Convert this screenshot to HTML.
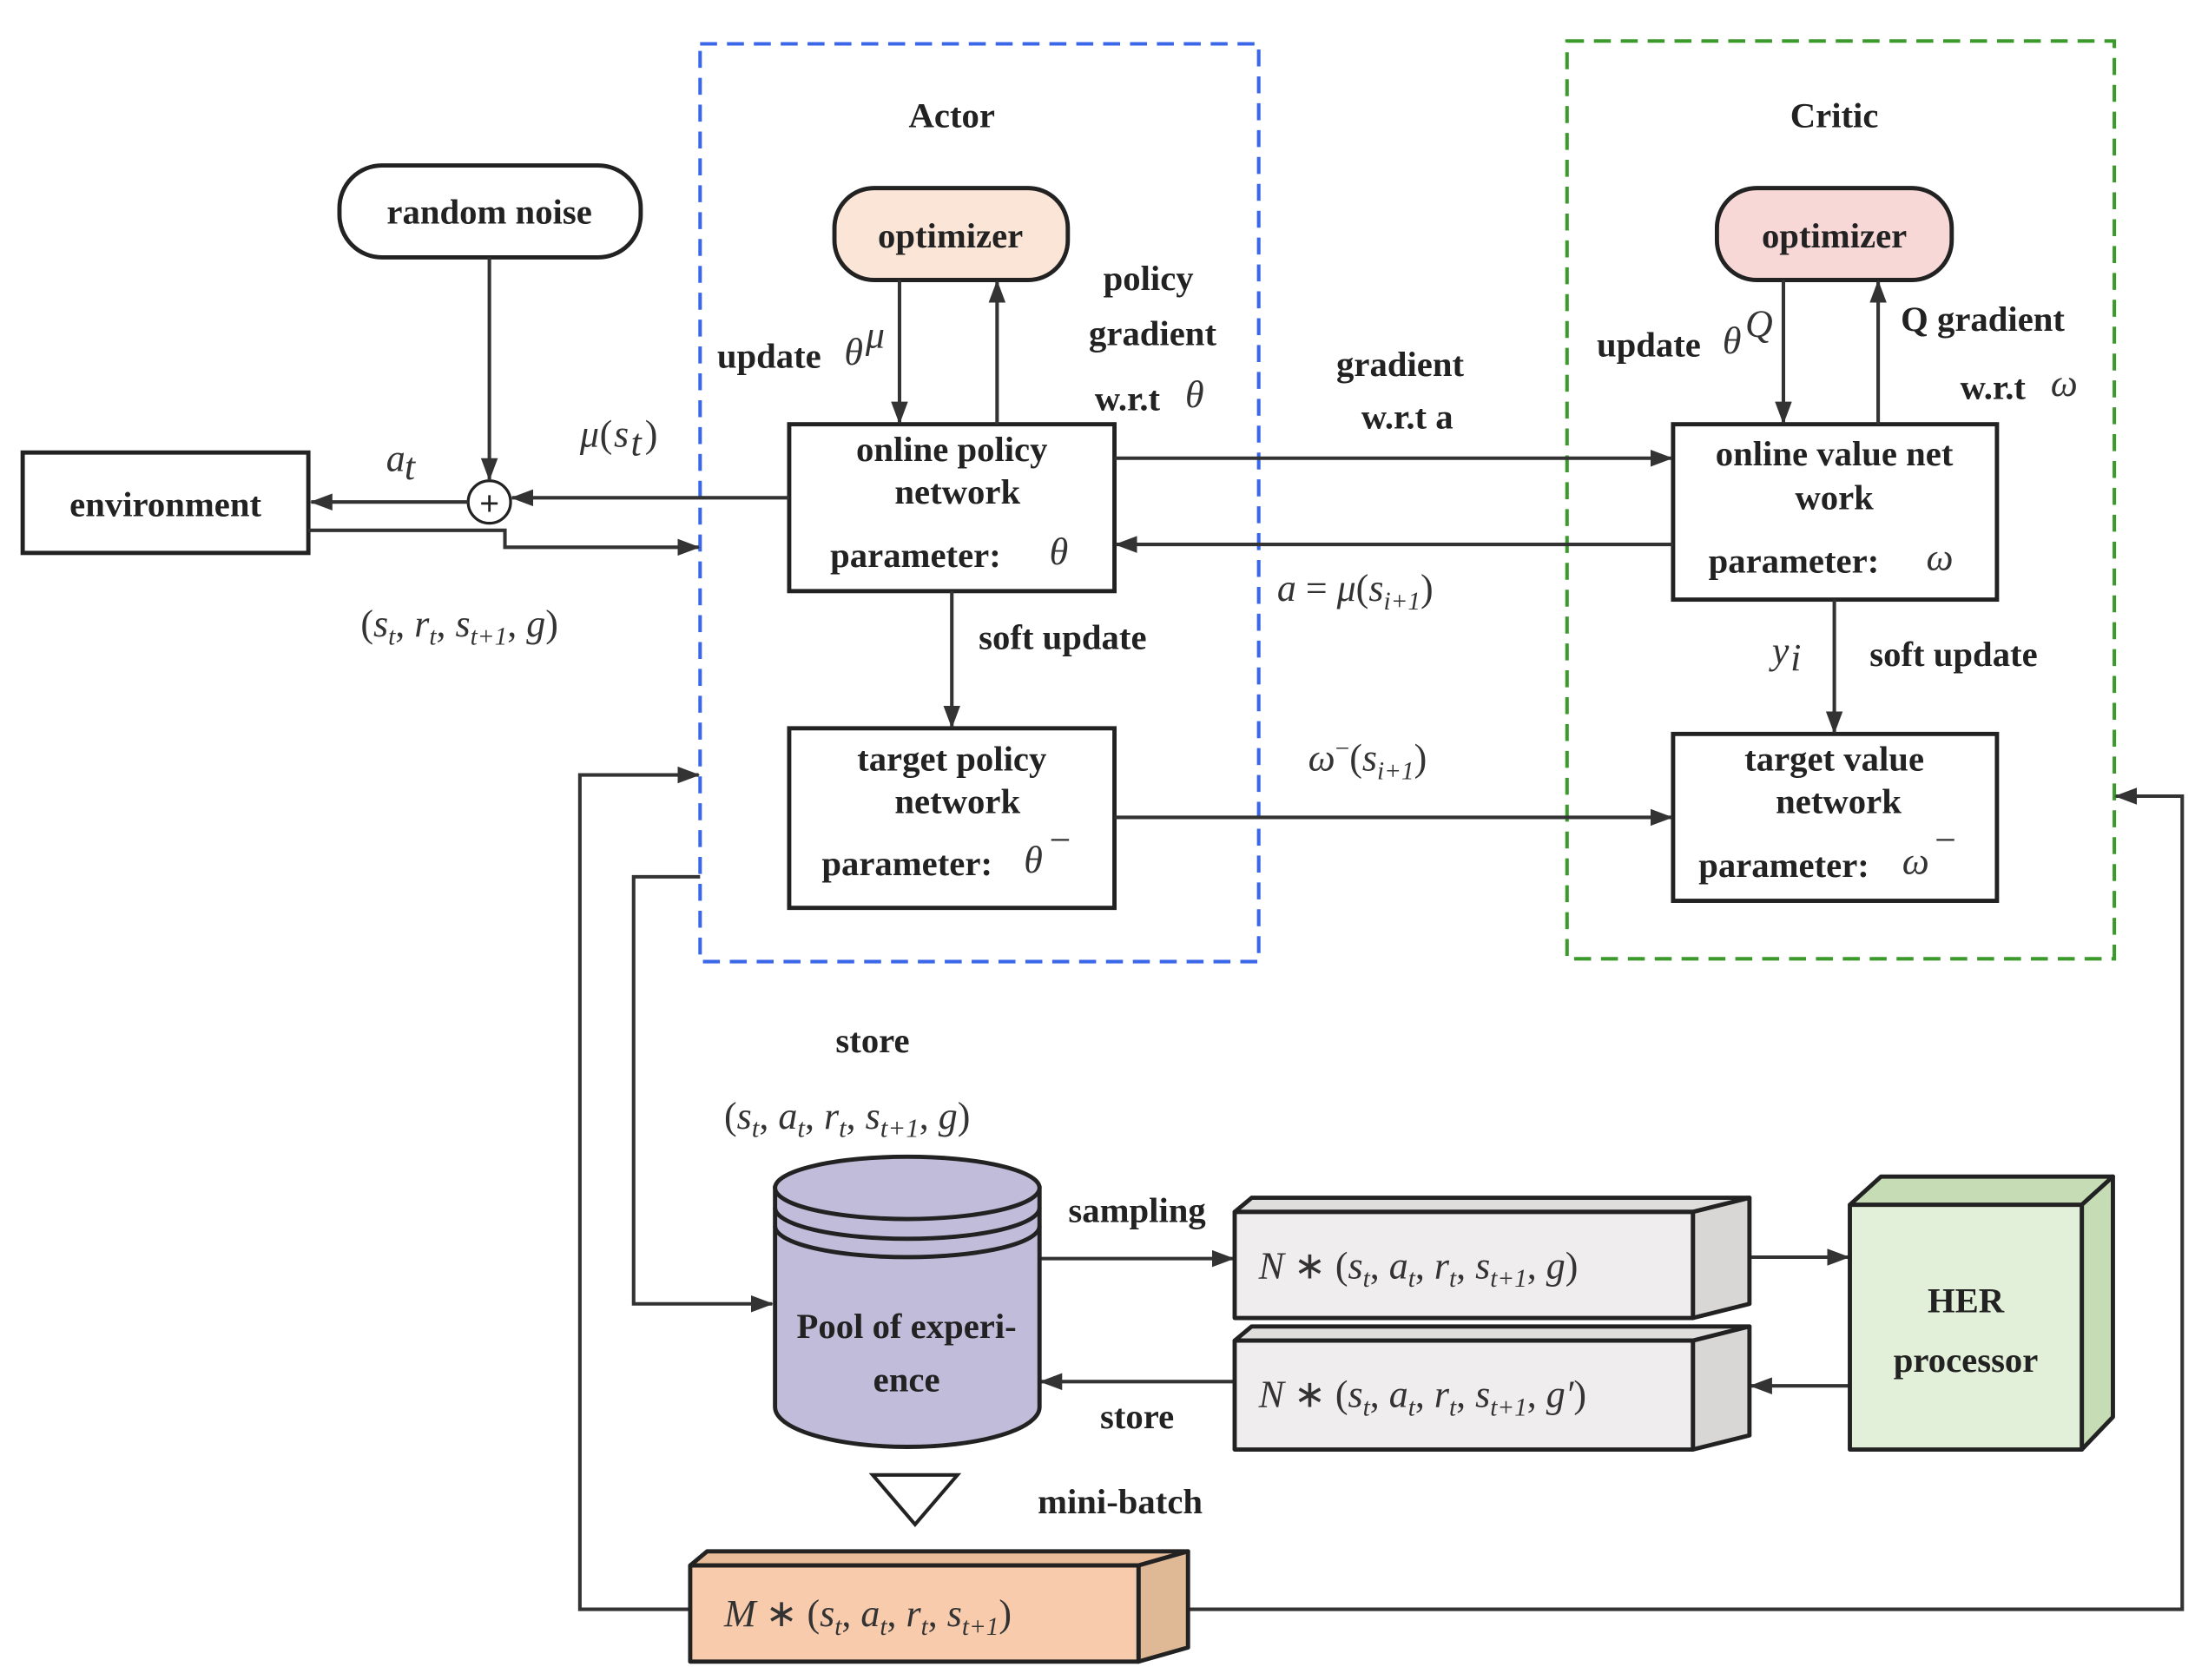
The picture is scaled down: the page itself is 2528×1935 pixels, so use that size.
<!DOCTYPE html>
<html><head><meta charset="utf-8"><style>
html,body{margin:0;padding:0;background:#fff}
svg{display:block}
.b{font-family:"Liberation Serif",serif;font-weight:bold;fill:#222;font-size:25px}
.m{font-family:"Liberation Serif",serif;font-style:italic;fill:#333;font-size:27px}
.n{font-family:"Liberation Serif",serif;fill:#333;font-size:27px}
</style></head><body>
<svg width="2528" height="1935" viewBox="0 0 1552 1188" xmlns="http://www.w3.org/2000/svg">
<defs>
<marker id="a" markerWidth="16" markerHeight="12" refX="15" refY="6" orient="auto" markerUnits="userSpaceOnUse" viewBox="0 0 16 12">
<path d="M0,0 L16,6 L0,12 z" fill="#333"/></marker>
</defs>
<g fill="none" stroke-width="2.5" stroke-dasharray="12,7">
<rect x="495" y="31" width="395" height="649" stroke="#3a66e8"/>
<rect x="1108" y="29" width="387" height="649" stroke="#3c9a2c"/>
</g>
<text class="b" x="673" y="90" text-anchor="middle" font-size="27">Actor</text>
<text class="b" x="1297" y="90" text-anchor="middle" font-size="27">Critic</text>

<g stroke="#222" stroke-width="3">
<rect x="240" y="117" width="213" height="65" rx="30" fill="#fff"/>
<rect x="590" y="133" width="165" height="65" rx="28" fill="#fbe5d6"/>
<rect x="1214" y="133" width="166" height="65" rx="28" fill="#f8d7d7"/>
<rect x="558" y="300" width="230" height="118" fill="#fff"/>
<rect x="558" y="515" width="230" height="127" fill="#fff"/>
<rect x="1183" y="300" width="229" height="124" fill="#fff"/>
<rect x="1183" y="519" width="229" height="118" fill="#fff"/>
<rect x="16" y="320" width="202" height="71" fill="#fff"/>
</g>
<circle cx="346" cy="355" r="15" fill="#fff" stroke="#222" stroke-width="2"/>
<text x="346" y="364" text-anchor="middle" font-family="Liberation Sans" font-size="24" fill="#222">+</text>

<text class="b" x="346" y="158" text-anchor="middle" font-size="27">random noise</text>
<text class="b" x="672" y="175" text-anchor="middle" font-size="27">optimizer</text>
<text class="b" x="1297" y="175" text-anchor="middle" font-size="27">optimizer</text>
<text class="b" x="117" y="365" text-anchor="middle" font-size="26">environment</text>
<text class="b" x="673" y="326" text-anchor="middle">online policy</text>
<text class="b" x="677" y="356" text-anchor="middle">network</text>
<text class="b" x="587" y="401">parameter:</text><text class="m" x="742" y="399">θ</text>
<text class="b" x="673" y="545" text-anchor="middle">target policy</text>
<text class="b" x="677" y="575" text-anchor="middle">network</text>
<text class="b" x="581" y="619">parameter:</text><text class="m" x="724" y="617">θ</text><text class="n" x="742" y="603" font-size="18">−</text>
<text class="b" x="1297" y="329" text-anchor="middle">online value net</text>
<text class="b" x="1297" y="360" text-anchor="middle">work</text>
<text class="b" x="1208" y="405">parameter:</text><text class="m" x="1362" y="403">ω</text>
<text class="b" x="1297" y="545" text-anchor="middle">target value</text>
<text class="b" x="1300" y="575" text-anchor="middle">network</text>
<text class="b" x="1201" y="620">parameter:</text><text class="m" x="1345" y="618">ω</text><text class="n" x="1368" y="603" font-size="18">−</text>

<g stroke="#333" stroke-width="2.5" fill="none">
<line x1="346" y1="182" x2="346" y2="339" marker-end="url(#a)"/>
<line x1="558" y1="352" x2="362" y2="352" marker-end="url(#a)"/>
<line x1="331" y1="355" x2="220" y2="355" marker-end="url(#a)"/>
<polyline points="218,375 357,375 357,387 494,387" marker-end="url(#a)"/>
<line x1="636" y1="198" x2="636" y2="299" marker-end="url(#a)"/>
<line x1="705" y1="300" x2="705" y2="199" marker-end="url(#a)"/>
<line x1="1261" y1="198" x2="1261" y2="299" marker-end="url(#a)"/>
<line x1="1328" y1="300" x2="1328" y2="199" marker-end="url(#a)"/>
<line x1="788" y1="324" x2="1182" y2="324" marker-end="url(#a)"/>
<line x1="1183" y1="385" x2="789" y2="385" marker-end="url(#a)"/>
<line x1="673" y1="418" x2="673" y2="514" marker-end="url(#a)"/>
<line x1="1297" y1="424" x2="1297" y2="518" marker-end="url(#a)"/>
<line x1="788" y1="578" x2="1182" y2="578" marker-end="url(#a)"/>
<polyline points="488,1138 410,1138 410,548 494,548" marker-end="url(#a)"/>
<polyline points="495,620 448,620 448,922 546,922" marker-end="url(#a)"/>
<polyline points="840,1138 1543,1138 1543,563 1496,563" marker-end="url(#a)"/>
<line x1="735" y1="890" x2="872" y2="890" marker-end="url(#a)"/>
<line x1="1237" y1="889" x2="1307" y2="889" marker-end="url(#a)"/>
<line x1="1308" y1="980" x2="1238" y2="980" marker-end="url(#a)"/>
<line x1="873" y1="977" x2="736" y2="977" marker-end="url(#a)"/>
</g>

<text class="b" x="507" y="260">update</text><text class="m" x="597" y="258">θ</text><text class="m" x="612" y="246" font-size="18">μ</text>
<text class="b" x="812" y="205" text-anchor="middle">policy</text>
<text class="b" x="815" y="244" text-anchor="middle">gradient</text>
<text class="b" x="774" y="290">w.r.t</text><text class="m" x="838" y="288">θ</text>
<text class="b" x="990" y="266" text-anchor="middle">gradient</text>
<text class="b" x="995" y="303" text-anchor="middle">w.r.t  a</text>
<text class="b" x="1129" y="252">update</text><text class="m" x="1218" y="250">θ</text><text class="m" x="1234" y="238" font-size="18">Q</text>
<text class="b" x="1344" y="234">Q gradient</text>
<text class="b" x="1386" y="282">w.r.t</text><text class="m" x="1450" y="280">ω</text>
<text class="b" x="692" y="459">soft update</text>
<text class="b" x="1322" y="471">soft update</text>
<text class="m" x="1253" y="469">y</text><text class="m" x="1266" y="474" font-size="17">i</text>
<text class="m" x="273" y="333">a</text><text class="m" x="286" y="339" font-size="17">t</text>
<text class="m" x="410" y="316">μ</text><text class="n" x="424" y="316">(</text><text class="m" x="434" y="316">s</text><text class="m" x="446" y="322" font-size="17">t</text><text class="n" x="456" y="316">)</text>
<text class="n" x="255" y="450" font-size="30">(<tspan font-style="italic">s</tspan><tspan font-size="18" font-style="italic" dy="6">t</tspan><tspan dy="-6">, </tspan><tspan font-style="italic">r</tspan><tspan font-size="18" font-style="italic" dy="6">t</tspan><tspan dy="-6">, </tspan><tspan font-style="italic">s</tspan><tspan font-size="18" font-style="italic" dy="6">t+1</tspan><tspan dy="-6">, </tspan><tspan font-style="italic">g</tspan>)</text>
<text class="n" x="903" y="425"><tspan font-style="italic">a</tspan> = <tspan font-style="italic">μ</tspan>(<tspan font-style="italic">s</tspan><tspan font-size="18" font-style="italic" dy="6">i+1</tspan><tspan dy="-6">)</tspan></text>
<text class="n" x="925" y="545"><tspan font-style="italic">ω</tspan><tspan font-size="18" dy="-10">−</tspan><tspan dy="10">(</tspan><tspan font-style="italic">s</tspan><tspan font-size="18" font-style="italic" dy="6">i+1</tspan><tspan dy="-6">)</tspan></text>

<text class="b" x="617" y="744" text-anchor="middle">store</text>
<text class="n" x="512" y="798" font-size="32">(<tspan font-style="italic">s</tspan><tspan font-size="19" font-style="italic" dy="6">t</tspan><tspan dy="-6">, </tspan><tspan font-style="italic">a</tspan><tspan font-size="19" font-style="italic" dy="6">t</tspan><tspan dy="-6">, </tspan><tspan font-style="italic">r</tspan><tspan font-size="19" font-style="italic" dy="6">t</tspan><tspan dy="-6">, </tspan><tspan font-style="italic">s</tspan><tspan font-size="19" font-style="italic" dy="6">t+1</tspan><tspan dy="-6">, </tspan><tspan font-style="italic">g</tspan>)</text>

<g stroke="#222" stroke-width="3">
<path d="M548,840 L548,995 A93,28 0 0 0 735,995 L735,840 Z" fill="#c0bcd9"/>
<ellipse cx="641.5" cy="840" rx="93.5" ry="22" fill="#c0bcd9"/>
<path d="M548,854 A93.5,22 0 0 0 735,854 M548,867 A93.5,22 0 0 0 735,867" fill="none"/>
</g>
<text class="b" x="641" y="946" text-anchor="middle">Pool of experi-</text>
<text class="b" x="641" y="984" text-anchor="middle">ence</text>
<text class="b" x="804" y="864" text-anchor="middle">sampling</text>
<text class="b" x="804" y="1010" text-anchor="middle">store</text>
<polygon points="617,1043 677,1043 647,1078" fill="#fff" stroke="#222" stroke-width="2.5"/>
<text class="b" x="792" y="1070" text-anchor="middle">mini-batch</text>

<g stroke="#222" stroke-width="3" stroke-linejoin="round">
<polygon points="873,857 885,847 1237,847 1197,857" fill="#e0dddd"/>
<polygon points="1197,857 1237,847 1237,922 1197,932" fill="#d9d6d6"/>
<rect x="873" y="857" width="324" height="75" fill="#efeded"/>
<polygon points="873,948 885,938 1237,938 1197,948" fill="#e0dddd"/>
<polygon points="1197,948 1237,938 1237,1015 1197,1025" fill="#d9d6d6"/>
<rect x="873" y="948" width="324" height="77" fill="#efeded"/>
<polygon points="1308,852 1330,832 1494,832 1472,852" fill="#c5dcb5"/>
<polygon points="1472,852 1494,832 1494,1002 1472,1025" fill="#c5dcb5"/>
<rect x="1308" y="852" width="164" height="173" fill="#e2f0d9"/>
<polygon points="488,1107 500,1097 840,1097 805,1107" fill="#e8bc98"/>
<polygon points="805,1107 840,1097 840,1165 805,1175" fill="#dfb896"/>
<rect x="488" y="1107" width="317" height="68" fill="#f8cbad"/>
</g>
<text class="n" x="890" y="904" font-size="29"><tspan font-style="italic">N</tspan> ∗ (<tspan font-style="italic">s</tspan><tspan font-size="18" font-style="italic" dy="6">t</tspan><tspan dy="-6">, </tspan><tspan font-style="italic">a</tspan><tspan font-size="18" font-style="italic" dy="6">t</tspan><tspan dy="-6">, </tspan><tspan font-style="italic">r</tspan><tspan font-size="18" font-style="italic" dy="6">t</tspan><tspan dy="-6">, </tspan><tspan font-style="italic">s</tspan><tspan font-size="18" font-style="italic" dy="6">t+1</tspan><tspan dy="-6">, </tspan><tspan font-style="italic">g</tspan>)</text>
<text class="n" x="890" y="995" font-size="29"><tspan font-style="italic">N</tspan> ∗ (<tspan font-style="italic">s</tspan><tspan font-size="18" font-style="italic" dy="6">t</tspan><tspan dy="-6">, </tspan><tspan font-style="italic">a</tspan><tspan font-size="18" font-style="italic" dy="6">t</tspan><tspan dy="-6">, </tspan><tspan font-style="italic">r</tspan><tspan font-size="18" font-style="italic" dy="6">t</tspan><tspan dy="-6">, </tspan><tspan font-style="italic">s</tspan><tspan font-size="18" font-style="italic" dy="6">t+1</tspan><tspan dy="-6">, </tspan><tspan font-style="italic">g′</tspan>)</text>
<text class="b" x="1390" y="928" text-anchor="middle" font-size="27">HER</text>
<text class="b" x="1390" y="970" text-anchor="middle" font-size="27">processor</text>
<text class="n" x="512" y="1150" font-size="29"><tspan font-style="italic">M</tspan> ∗ (<tspan font-style="italic">s</tspan><tspan font-size="18" font-style="italic" dy="6">t</tspan><tspan dy="-6">, </tspan><tspan font-style="italic">a</tspan><tspan font-size="18" font-style="italic" dy="6">t</tspan><tspan dy="-6">, </tspan><tspan font-style="italic">r</tspan><tspan font-size="18" font-style="italic" dy="6">t</tspan><tspan dy="-6">, </tspan><tspan font-style="italic">s</tspan><tspan font-size="18" font-style="italic" dy="6">t+1</tspan><tspan dy="-6">)</tspan></text>
</svg>
</body></html>
